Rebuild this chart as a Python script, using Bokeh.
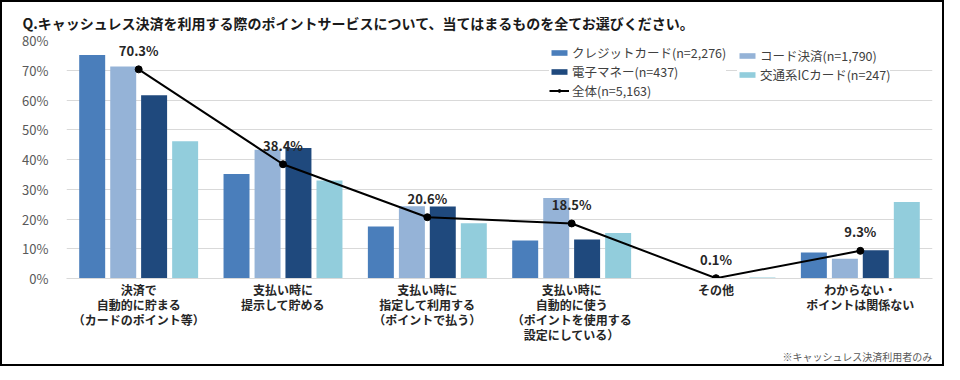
from bokeh.plotting import figure
from bokeh.models import (FactorRange, ColumnDataSource, Legend, LegendItem, Title,
                          FixedTicker, PrintfTickFormatter)
from bokeh.transform import dodge
from bokeh.core.properties import value
from bokeh.embed import file_html
from bokeh.resources import INLINE

title_text = "Q.キャッシュレス決済を利用する際のポイントサービスについて、当てはまるものを全てお選びください。"
note_text = "※キャッシュレス決済利用者のみ"

categories = [
    "決済で\n自動的に貯まる\n（カードのポイント等）",
    "支払い時に\n提示して貯める",
    "支払い時に\n指定して利用する\n（ポイントで払う）",
    "支払い時に\n自動的に使う\n（ポイントを使用する\n設定にしている）",
    "その他",
    "わからない・\nポイントは関係ない",
]
credit = [75.1, 35.1, 17.5, 12.8, 0.0, 8.7]
code = [71.3, 43.3, 24.3, 27.1, 0.1, 6.6]
emoney = [61.6, 43.9, 24.2, 13.1, 0.0, 9.5]
ic = [46.1, 32.9, 18.6, 15.3, 0.3, 25.7]
total = [70.3, 38.4, 20.6, 18.5, 0.1, 9.3]

series_names = ["クレジットカード(n=2,276)", "コード決済(n=1,790)", "電子マネー(n=437)", "交通系ICカード(n=247)"]
total_name = "全体(n=5,163)"
colors = ["#4A7EBB", "#95B3D7", "#1F497D", "#92CDDC"]

y_ticks = [0, 10, 20, 30, 40, 50, 60, 70, 80]

FONT = "Noto Sans CJK JP"

src = ColumnDataSource(dict(cat=categories, credit=credit, code=code, emoney=emoney, ic=ic,
                            total=total, lbl=[f"{v:.1f}%" for v in total]))

p = figure(x_range=FactorRange(*categories, range_padding=0), y_range=(0, 80),
           frame_width=866, frame_height=238, output_backend="svg", toolbar_location=None,
           min_border_left=64, min_border_right=10, min_border_top=38, min_border_bottom=60)
p.styles = {"border": "2px solid #000000"}
p.outline_line_color = None
p.background_fill_color = "white"
p.border_fill_color = "white"

p.title.text = title_text
p.title.align = "left"
p.title.offset = -44
p.title.standoff = 16
p.title.text_font = FONT
p.title.text_font_size = "14px"
p.title.text_font_style = "bold"
p.title.text_color = "#1a1a1a"

cols = ["credit", "code", "emoney", "ic"]
offsets = [-0.322, -0.107, 0.107, 0.322]
bar_rs = []
for c, off, col in zip(cols, offsets, colors):
    r = p.vbar(x=dodge("cat", off, range=p.x_range), top=c, width=0.18, source=src,
               fill_color=col, line_color=None)
    bar_rs.append(r)

line_r = p.line(x="cat", y="total", source=src, line_color="black", line_width=2)
dot_r = p.scatter(x="cat", y="total", source=src, size=7, fill_color="black", line_color="black")
p.text(x="cat", y="total", text="lbl", source=src, y_offset=-19, text_align="center",
       text_baseline="middle", text_font=value(FONT), text_font_size="13px",
       text_font_style="bold", text_color="#262626")

# axes
p.yaxis.ticker = FixedTicker(ticks=y_ticks)
p.yaxis.formatter = PrintfTickFormatter(format="%d%%")
p.yaxis.axis_line_color = None
p.yaxis.major_tick_line_color = None
p.yaxis.minor_tick_line_color = None
p.yaxis.major_label_text_font = FONT
p.yaxis.major_label_text_font_size = "13px"
p.yaxis.major_label_text_color = "#595959"
p.yaxis.major_label_standoff = 12

p.xaxis.axis_line_color = "#D9D9D9"
p.xaxis.major_tick_line_color = None
p.xaxis.minor_tick_line_color = None
p.xaxis.major_label_text_font = FONT
p.xaxis.major_label_text_font_size = "12px"
p.xaxis.major_label_text_font_style = "bold"
p.xaxis.major_label_text_color = "#262626"
p.xaxis.major_label_text_line_height = 0.9
p.xaxis.major_label_standoff = -4

p.xgrid.grid_line_color = None
p.ygrid.grid_line_color = "#D9D9D9"


def make_legend(items, loc):
    lg = Legend(items=items, location=loc)
    lg.label_text_font = FONT
    lg.label_text_font_size = "12.5px"
    lg.label_text_color = "#404040"
    lg.glyph_width = 20
    lg.glyph_height = 7
    lg.label_height = 14
    lg.label_standoff = 3
    lg.spacing = -4
    lg.padding = 3
    lg.margin = 0
    lg.border_line_color = None
    lg.background_fill_color = "white"
    lg.background_fill_alpha = 1.0
    return lg


legend_a = make_legend([
    LegendItem(label=series_names[0], renderers=[bar_rs[0]]),
    LegendItem(label=series_names[2], renderers=[bar_rs[2]]),
    LegendItem(label=total_name, renderers=[line_r, dot_r]),
], (483, 178))
legend_b = make_legend([
    LegendItem(label=series_names[1], renderers=[bar_rs[1]]),
    LegendItem(label=series_names[3], renderers=[bar_rs[3]]),
], (671, 194))
p.add_layout(legend_a, "center")
p.add_layout(legend_b, "center")

note = Title(text=note_text, align="right", vertical_align="bottom", standoff=1,
             text_font=FONT, text_font_size="10px", text_font_style="normal",
             text_color="#595959")
p.add_layout(note, "below")

open("out.html", "w").write(file_html(p, INLINE))
